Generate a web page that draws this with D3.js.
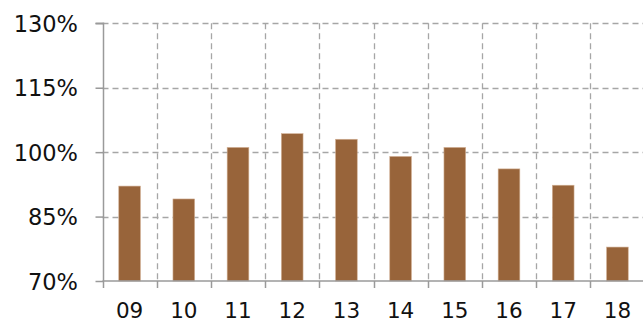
<!DOCTYPE html>
<html>
<head>
<meta charset="utf-8">
<script src="https://cdn.jsdelivr.net/npm/d3@7"></script>
<style>
  html, body { margin: 0; padding: 0; background: #fff; }
  svg { display: block; }
</style>
</head>
<body>
<svg id="chart" width="643" height="323"></svg>
<script>
const categories = ["09", "10", "11", "12", "13", "14", "15", "16", "17", "18"];
const values = [92.1, 89.1, 101.1, 104.3, 103.0, 99.0, 101.1, 96.1, 92.3, 77.9];
const yTicks = [70, 85, 100, 115, 130];

const svg = d3.select("#chart");
const mLeft = 102.5, mRight = 644.5, mTop = 23.3, mBottom = 281;

const x = d3.scaleBand().domain(categories).range([mLeft, mRight]).paddingInner(0).paddingOuter(0);
const y = d3.scaleLinear().domain([70, 130]).range([mBottom, mTop]);

const gridColor = "#a6a6a6";
const axisColor = "#9a9a9a";
const font = "'DejaVu Sans', Verdana, sans-serif";

// horizontal gridlines
svg.append("g").selectAll("line").data(yTicks.filter(d => d > 70)).join("line")
  .attr("x1", mLeft).attr("x2", 643)
  .attr("y1", d => Math.round(y(d)) + 0.5).attr("y2", d => Math.round(y(d)) + 0.5)
  .attr("stroke", gridColor).attr("stroke-width", 1.3)
  .attr("stroke-dasharray", "6,4");

// vertical gridlines at band boundaries
const bounds = categories.slice(1).map(c => x(c));
svg.append("g").selectAll("line").data(bounds).join("line")
  .attr("x1", d => Math.round(d) + 0.5).attr("x2", d => Math.round(d) + 0.5)
  .attr("y1", y(130)).attr("y2", mBottom)
  .attr("stroke", gridColor).attr("stroke-width", 1.3)
  .attr("stroke-dasharray", "6,4");

// bars
const bw = x.bandwidth() * 0.4;
svg.append("g").selectAll("rect").data(categories).join("rect")
  .attr("x", (d) => x(d) + (x.bandwidth() - bw) / 2)
  .attr("width", bw)
  .attr("y", (d, i) => y(values[i]))
  .attr("height", (d, i) => mBottom - y(values[i]))
  .attr("fill", "#98643a")
  .attr("stroke", "#d2b095").attr("stroke-width", 0.6);

// y axis
const yAxis = d3.axisLeft(y).tickValues(yTicks).tickSize(8).tickFormat(d => d + "%");
const gy = svg.append("g").attr("transform", `translate(${Math.round(mLeft) + 0.5},0)`).call(yAxis);
gy.select(".domain").attr("stroke", axisColor).attr("stroke-width", 1.5).attr("d", `M-8,${y(130)}H0V${mBottom}`);
gy.selectAll(".tick line").attr("stroke", axisColor).attr("stroke-width", 1.5);
gy.selectAll(".tick text").attr("x", -25.5).attr("dy", "0.36em")
  .attr("font-family", font).attr("font-size", 22.5).attr("fill", "#111");

// x axis
const xAxis = d3.axisBottom(x).tickSize(0).tickSizeOuter(0);
const gx = svg.append("g").attr("transform", `translate(0,${mBottom})`).call(xAxis);
gx.select(".domain").attr("stroke", axisColor).attr("stroke-width", 1.5).attr("d", `M${mLeft},0H643`);
gx.selectAll(".tick text").attr("y", 37).attr("dy", 0)
  .attr("font-family", font).attr("font-size", 21.5).attr("fill", "#111");
// x ticks at band boundaries
svg.append("g").selectAll("line").data([mLeft].concat(bounds)).join("line")
  .attr("x1", d => Math.round(d) + 0.5).attr("x2", d => Math.round(d) + 0.5)
  .attr("y1", mBottom).attr("y2", mBottom + 7)
  .attr("stroke", axisColor).attr("stroke-width", 1.5);
</script>
</body>
</html>
